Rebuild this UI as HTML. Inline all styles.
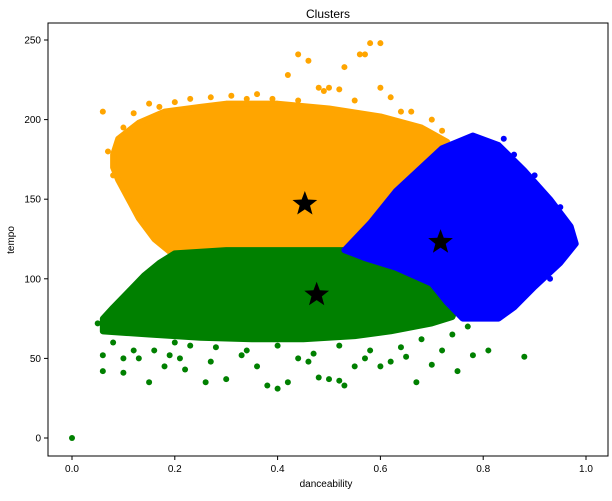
<!DOCTYPE html>
<html><head><meta charset="utf-8"><style>
body{margin:0;background:#fff;font-family:"Liberation Sans",sans-serif}
svg text{font-family:"Liberation Sans",sans-serif}
</style></head><body>
<svg id="chart" width="612" height="496" xmlns="http://www.w3.org/2000/svg">
<text x="328" y="18" font-size="12" text-anchor="middle">Clusters</text>
<g id="marks"></g>
<rect x="48" y="23" width="560" height="433" fill="none" stroke="#000" stroke-width="1"/>
<g id="axes"></g>
<text x="326" y="487" font-size="10" text-anchor="middle">danceability</text>
<text transform="translate(14,240) rotate(-90)" font-size="10" text-anchor="middle">tempo</text>
</svg>
<script>
const xTicks=[0,0.2,0.4,0.6,0.8,1.0];
const xTickLabels=["0.0","0.2","0.4","0.6","0.8","1.0"];
const yTicks=[0,50,100,150,200,250];
const yTickLabels=["0","50","100","150","200","250"];
const orangeHull=[[0.08,178],[0.09,188],[0.13,198],[0.18,205],[0.25,208],[0.3,210],[0.4,210],[0.5,207],[0.6,202],[0.68,195],[0.73,186],[0.7,172],[0.64,158],[0.59,140],[0.55,124],[0.53,118],[0.45,118],[0.3,117],[0.19,117],[0.16,125],[0.13,138],[0.11,150],[0.09,162],[0.08,170]];
const blueHull=[[0.53,118],[0.58,135],[0.63,155],[0.68,170],[0.72,182],[0.78,190],[0.83,184],[0.88,168],[0.93,150],[0.97,133],[0.98,122],[0.95,110],[0.9,95],[0.86,82],[0.83,75],[0.76,75],[0.73,85],[0.7,97],[0.63,107],[0.57,113]];
const greenHull=[[0.06,75],[0.08,82],[0.11,92],[0.14,102],[0.17,110],[0.2,116],[0.3,118],[0.45,118],[0.53,118],[0.6,111],[0.67,104],[0.72,95],[0.75,84],[0.74,76],[0.7,72],[0.62,67],[0.55,64],[0.45,62],[0.35,62],[0.25,63],[0.15,65],[0.06,67]];
const orangeOutliers=[[0.06,205],[0.44,241],[0.46,237],[0.58,248],[0.6,248],[0.56,241],[0.57,241],[0.42,228],[0.53,233],[0.48,220],[0.49,218],[0.5,220],[0.52,219],[0.6,220],[0.62,214],[0.36,216],[0.31,215],[0.27,214],[0.23,213],[0.15,210],[0.66,205],[0.7,200],[0.1,195],[0.12,204],[0.17,208],[0.2,211],[0.34,213],[0.39,213],[0.44,212],[0.55,212],[0.64,205],[0.72,193],[0.08,165],[0.1,158],[0.12,170],[0.07,180]];
const blueOutliers=[[0.86,178],[0.84,188],[0.8,186],[0.9,165],[0.95,145],[0.97,120],[0.93,100],[0.8,78],[0.77,80],[0.88,90]];
const greenOutliers=[[0,0],[0.06,52],[0.06,42],[0.1,41],[0.1,50],[0.13,50],[0.15,35],[0.16,55],[0.18,45],[0.21,50],[0.22,43],[0.26,35],[0.27,48],[0.3,37],[0.33,52],[0.36,45],[0.38,33],[0.4,31],[0.42,35],[0.44,50],[0.46,48],[0.48,38],[0.5,37],[0.52,36],[0.53,33],[0.55,45],[0.57,50],[0.6,45],[0.62,48],[0.65,51],[0.67,35],[0.7,46],[0.72,55],[0.75,42],[0.78,52],[0.81,55],[0.88,51],[0.23,58],[0.34,55],[0.47,53],[0.58,55],[0.64,57],[0.12,55],[0.19,52],[0.08,60],[0.2,60],[0.28,57],[0.4,58],[0.52,58],[0.68,62],[0.74,65],[0.77,70],[0.05,72]];
const centroidsX=[0.453,0.717,0.476];
const centroidsY=[147,123,90];
const X=v=>72+v*514, Y=v=>438-v*1.592;
const NS="http://www.w3.org/2000/svg";
const marks=document.getElementById('marks'), axes=document.getElementById('axes');
function mk(t,a,p){const e=document.createElementNS(NS,t);for(const k in a)e.setAttribute(k,a[k]);p.appendChild(e);return e;}
function hull(pts,c,name){const e=mk('polygon',{points:pts.map(p=>X(p[0])+','+Y(p[1])).join(' '),fill:c,stroke:c,'stroke-width':6,'stroke-linejoin':'round'},marks);

}
function dots(pts,c,name){pts.forEach(p=>{const e=mk('circle',{cx:X(p[0]),cy:Y(p[1]),r:3,fill:c},marks);

});}
hull(orangeHull,'#ffa500','orange-cluster');
dots(orangeOutliers,'#ffa500','orange-point');
hull(greenHull,'#008000','green-cluster');
dots(greenOutliers,'#008000','green-point');
hull(blueHull,'#0000ff','blue-cluster');
dots(blueOutliers,'#0000ff','blue-point');
function star(cx,cy,R){let s='';for(let i=0;i<10;i++){const r=i%2?R*0.42:R,a=-Math.PI/2+i*Math.PI/5;s+=(cx+r*Math.cos(a))+','+(cy+r*Math.sin(a))+' ';}return s;}
centroidsX.forEach((v,i)=>{const e=mk('polygon',{points:star(X(v),Y(centroidsY[i]),13),fill:'#000'},marks);

});
xTicks.forEach((v,i)=>{mk('line',{x1:X(v),x2:X(v),y1:456,y2:460,stroke:'#000'},axes);
const t=mk('text',{x:X(v),y:472,'font-size':10,'text-anchor':'middle'},axes);t.textContent=xTickLabels[i];

});
yTicks.forEach((v,i)=>{mk('line',{x1:44,x2:48,y1:Y(v),y2:Y(v),stroke:'#000'},axes);
const t=mk('text',{x:41,y:Y(v)+3.5,'font-size':10,'text-anchor':'end'},axes);t.textContent=yTickLabels[i];

});
</script>
</body></html>
